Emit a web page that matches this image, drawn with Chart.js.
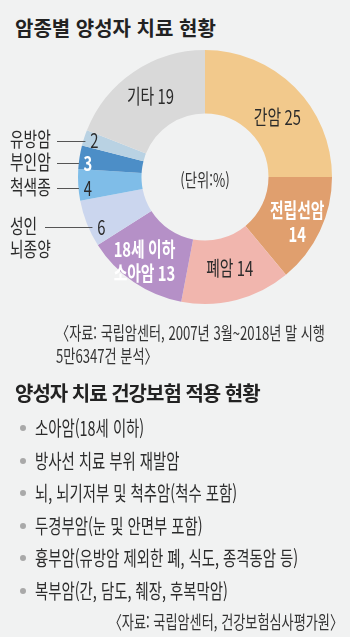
<!DOCTYPE html>
<html lang="ko">
<head>
<meta charset="utf-8">
<title>암종별 양성자 치료 현황</title>
<script src="https://cdn.jsdelivr.net/npm/chart.js@4.4.1/dist/chart.umd.min.js"></script>
<style>
  html, body { margin: 0; padding: 0; }
  body {
    width: 350px; height: 637px; position: relative; overflow: hidden;
    background: #f1f2f2; color: #2b2b2b;
    font-family: "Noto Sans CJK KR", "Noto Sans", sans-serif;
  }
  .title {
    position: absolute; left: 15px; height: 26px; line-height: 26px;
    font-size: 20px; font-weight: 700; color: #222; white-space: nowrap;
  }
  .narrow {
    position: absolute; white-space: nowrap; line-height: 26px; height: 26px;
    transform-origin: 0 50%;
  }
  #chartBox { position: absolute; left: 0; top: 0; width: 350px; height: 320px; }
  .src { font-size: 18px; color: #333; transform: scaleX(0.73); }
  .item { left: 35px; font-size: 20px; color: #2b2b2b; transform: scaleX(0.72); }
  .dot {
    position: absolute; left: 20px; width: 6px; height: 6px; border-radius: 50%;
    background: #a9a9a9;
  }
</style>
</head>
<body>

<div class="title" style="top:15px">암종별 양성자 치료 현황</div>

<div id="chartBox"><canvas id="cancerChart" width="350" height="320"></canvas></div>

<div class="narrow src" style="left:56px; top:319px">〈자료: 국립암센터, 2007년 3월~2018년 말 시행</div>
<div class="narrow src" style="left:56px; top:342px">5만6347건 분석〉</div>

<div class="title" style="top:380px; letter-spacing:-1px">양성자 치료 건강보험 적용 현황</div>

<div id="coverList"></div>

<div class="narrow src" style="right:7px; top:608px; transform-origin:100% 50%">〈자료: 국립암센터, 건강보험심사평가원〉</div>

<script>
// share of proton therapy patients by cancer type (%)
const categories = ['간암', '전립선암', '폐암', '소아암', '성인 뇌종양', '척색종', '부인암', '유방암', '기타'];
const values = [25, 14, 14, 13, 6, 4, 3, 2, 19];
const sliceColors = ['#f2c98c', '#e09f6e', '#f1b6ae', '#b590c7', '#cbd6ee', '#7fbde8', '#4c8ec7', '#b9d2e3', '#d9d9d9'];

// cancers covered by national health insurance
const coveredItems = [
  '소아암(18세 이하)',
  '방사선 치료 부위 재발암',
  '뇌, 뇌기저부 및 척추암(척수 포함)',
  '두경부암(눈 및 안면부 포함)',
  '흉부암(유방암 제외한 폐, 식도, 종격동암 등)',
  '복부암(간, 담도, 췌장, 후복막암)'
];

// bullet list
const list = document.getElementById('coverList');
coveredItems.forEach((txt, i) => {
  const cy = 428 + i * 32.6;
  const dot = document.createElement('div');
  dot.className = 'dot';
  dot.style.top = (cy - 3) + 'px';
  list.appendChild(dot);
  const line = document.createElement('div');
  line.className = 'narrow item';
  line.style.top = (cy - 13) + 'px';
  line.textContent = txt;
  list.appendChild(line);
});

// how each slice label sits relative to the slice centroid
const labelShift = [[5, 8], [6, 5], [1, -1], [-7, 6], [-15, 15], [-22, 5], [-23, 1], [-20, -7], [-1, -2]];
const whiteLabels = [1, 3, 6];
// slices labelled outside the ring with a leader line
const sideLabels = { 4: { lines: ['성인', '뇌종양'], lineFrom: 45 }, 5: { lineFrom: 57 }, 6: { lineFrom: 57 }, 7: { lineFrom: 57 } };
const squeeze = 0.74;

function sliceText(i) {
  const name = categories[i], v = values[i];
  if (sideLabels[i]) return [String(v)];
  if (i === 1) return [name, String(v)];
  if (i === 3) return ['18세 이하', name + ' ' + v];
  return [name + ' ' + v];
}

function narrowText(ctx, text, x, y, align) {
  const w = ctx.measureText(text).width * squeeze;
  let left = x;
  if (align === 'center') left = x - w / 2;
  if (align === 'right') left = x - w;
  ctx.save();
  ctx.translate(left, y);
  ctx.scale(squeeze, 1);
  ctx.textAlign = 'left';
  ctx.fillText(text, 0, 0);
  ctx.restore();
}

const sliceLabels = {
  id: 'sliceLabels',
  afterDatasetsDraw(chart) {
    const ctx = chart.ctx;
    const arcs = chart.getDatasetMeta(0).data;
    ctx.save();
    ctx.textBaseline = 'middle';

    // unit in the hole
    const c = arcs[0];
    ctx.fillStyle = '#333';
    ctx.font = '18px "Noto Sans CJK KR"';
    narrowText(ctx, '(단위:%)', c.x, c.y + 3, 'center');

    arcs.forEach((arc, i) => {
      const p = arc.tooltipPosition();
      const x = p.x + labelShift[i][0];
      const y = p.y + labelShift[i][1];
      const white = whiteLabels.includes(i);
      ctx.fillStyle = white ? '#ffffff' : '#2b2b2b';
      ctx.font = (white ? '600 ' : '') + '20px "Noto Sans CJK KR"';
      const lines = sliceText(i);
      const step = 24;
      lines.forEach((t, k) => {
        narrowText(ctx, t, x, y + (k - (lines.length - 1) / 2) * step, 'center');
      });

      const side = sideLabels[i];
      if (side) {
        ctx.strokeStyle = '#555';
        ctx.lineWidth = 1;
        ctx.beginPath();
        ctx.moveTo(side.lineFrom, Math.round(y) + 0.5);
        ctx.lineTo(x - 9, Math.round(y) + 0.5);
        ctx.stroke();
        ctx.fillStyle = '#2b2b2b';
        ctx.font = '20px "Noto Sans CJK KR"';
        const names = side.lines || [categories[i]];
        names.forEach((t, k) => narrowText(ctx, t, 10, y - 1 + k * 23, 'left'));
      }
    });
    ctx.restore();
  }
};

new Chart(document.getElementById('cancerChart'), {
  type: 'doughnut',
  data: {
    labels: categories,
    datasets: [{
      data: values,
      backgroundColor: sliceColors,
      borderWidth: 0
    }]
  },
  options: {
    responsive: false,
    animation: false,
    cutout: '50%',
    layout: { padding: { left: 78, right: 18, top: 50, bottom: 16 } },
    plugins: {
      legend: { display: false },
      tooltip: { enabled: false }
    }
  },
  plugins: [sliceLabels]
});
</script>
</body>
</html>
